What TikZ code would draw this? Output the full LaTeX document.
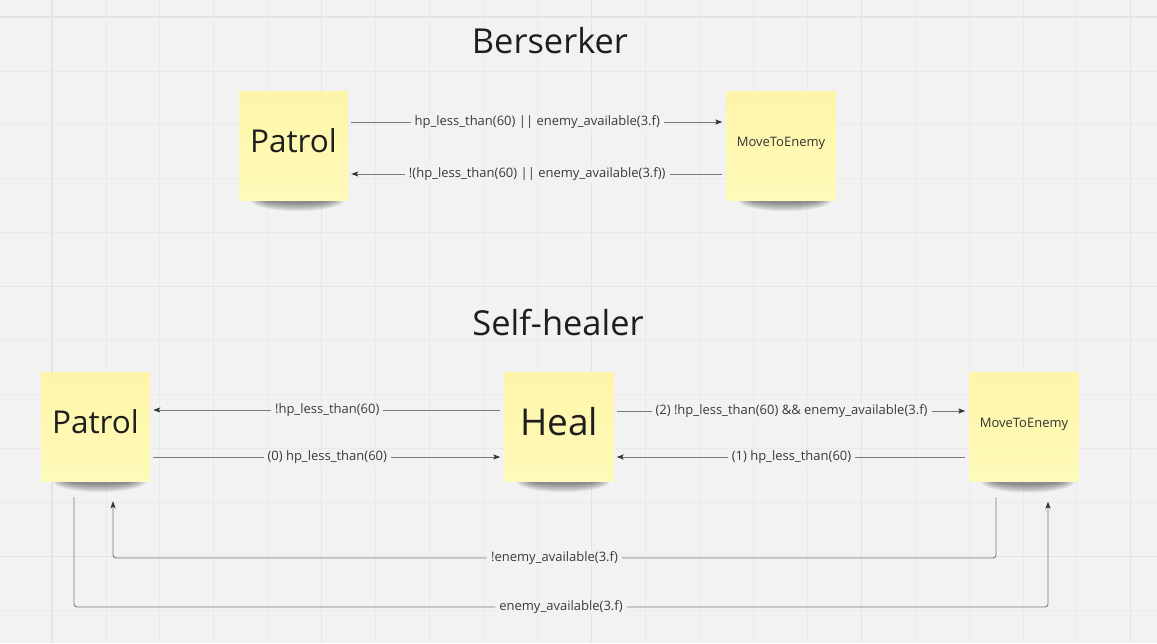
\documentclass[tikz,border=0pt]{standalone}
\usepackage{fontspec}
\setmainfont{Open Sans}
\usetikzlibrary{arrows.meta}
\definecolor{bg}{HTML}{F2F2F2}
\definecolor{gridminor}{HTML}{EAEAEA}
\definecolor{gridmajor}{HTML}{E4E4E4}
\definecolor{stickyTop}{HTML}{FDF5A8}
\definecolor{stickyBot}{HTML}{FFFAB9}
\definecolor{ink}{HTML}{1E1E1E}
\definecolor{labc}{HTML}{3A3A3A}
\definecolor{linec}{HTML}{7A7A7A}
\pgfdeclarelayer{gridlayer}
\pgfdeclarelayer{shadowlayer}
\pgfsetlayers{gridlayer,shadowlayer,main}
\tikzset{
  sticky/.style={minimum width=109pt, minimum height=109pt, inner sep=0pt,
    top color=stickyTop, bottom color=stickyBot, text=ink},
  bigtxt/.style={font=\fontsize{31.5}{36}\selectfont, text depth=9pt},
  healtxt/.style={font=\fontsize{37}{42}\selectfont, text depth=10pt},
  smalltxt/.style={font=\fontsize{13}{15}\selectfont, text=black!80, text depth=8pt},
  title/.style={font=\fontsize{34.4}{40}\selectfont, text=ink},
  lab/.style={fill=bg, inner xsep=4pt, inner ysep=1pt, text=labc,
    font=\fontsize{13}{15}\selectfont},
  conn/.style={draw=linec, line width=0.9pt,
    -{Stealth[length=7pt,width=5pt,inset=1.5pt,color=black!80]}},
}
\newcommand\stickyshadow[1]{%
  \begin{pgfonlayer}{shadowlayer}
  \foreach \r in {0,...,9}{
    \pgfmathsetmacro\rx{47-1.6*\r}
    \pgfmathsetmacro\ry{11-0.9*\r}
    \fill[black,opacity=0.05] ([xshift=4pt,yshift=0pt]#1.south) ellipse (\rx pt and \ry pt);
  }
  \end{pgfonlayer}}
\begin{document}
\begin{tikzpicture}[x=1pt,y=-1pt]
\useasboundingbox (0,0) rectangle (1157,643);
\begin{pgfonlayer}{gridlayer}
  \fill[bg] (0,0) rectangle (1157,643);
  \foreach \k in {0,...,20}{
    \draw[gridminor, line width=0.8pt] ({52+53.94*\k},0) -- ++(0,643);
  }
  \foreach \k in {0,...,11}{
    \draw[gridminor, line width=0.8pt] (0,{17+53.94*\k}) -- ++(1157,0);
  }
  \foreach \k in {0,5,10,15,20}{
    \draw[gridmajor, line width=1.1pt] ({52+53.94*\k},0) -- ++(0,643);
  }
  \foreach \k in {0,5,10}{
    \draw[gridmajor, line width=1.1pt] (0,{17+53.94*\k}) -- ++(1157,0);
  }
\end{pgfonlayer}

% titles
\node[title] (t1) at (550,41) {Berserker};
\node[title] (t2) at (558,323) {Self-healer};

% Berserker
\node[sticky, bigtxt] (bP) at (293.5,145.5) {Patrol};
\node[sticky, smalltxt] (bM) at (781,145.5) {MoveToEnemy};
\stickyshadow{bP}
\stickyshadow{bM}

\draw[conn, shorten <=3pt, shorten >=4pt] (bP.east |- 0,122) -- node[lab]{hp\_less\_than(60) || enemy\_available(3.f)} (bM.west |- 0,122);
\draw[conn, shorten <=4pt, shorten >=3pt] (bM.west |- 0,174) -- node[lab]{!(hp\_less\_than(60) || enemy\_available(3.f))} (bP.east |- 0,174);

% Self-healer
\node[sticky, bigtxt] (sP) at (95.5,426.5) {Patrol};
\node[sticky, healtxt] (sH) at (559,426.5) {Heal};
\node[sticky, smalltxt] (sM) at (1024,427) {MoveToEnemy};
\stickyshadow{sP}
\stickyshadow{sH}
\stickyshadow{sM}

\draw[conn, shorten <=4pt, shorten >=3pt] (sH.west |- 0,410) -- node[lab]{!hp\_less\_than(60)} (sP.east |- 0,410);
\draw[conn, shorten <=3pt, shorten >=4pt] (sP.east |- 0,457) -- node[lab]{(0) hp\_less\_than(60)} (sH.west |- 0,457);
\draw[conn, shorten <=3pt, shorten >=4pt] (sH.east |- 0,411) -- node[lab]{(2) !hp\_less\_than(60) \&\& enemy\_available(3.f)} (sM.west |- 0,411);
\draw[conn, shorten <=4pt, shorten >=3pt] (sM.west |- 0,457) -- node[lab]{(1) hp\_less\_than(60)} (sH.east |- 0,457);

\draw[conn, rounded corners=3pt]
  ([xshift=-28pt,yshift=-16pt]sM.south) -- ([xshift=-28pt]sM.south |- 0,558)
  -- node[lab]{!enemy\_available(3.f)} ([xshift=17.5pt]sP.south |- 0,558)
  -- ([xshift=17.5pt,yshift=-20pt]sP.south);
\draw[conn, rounded corners=3pt]
  ([xshift=-21.5pt,yshift=-16pt]sP.south) -- ([xshift=-21.5pt]sP.south |- 0,607)
  -- node[lab]{enemy\_available(3.f)} ([xshift=24pt]sM.south |- 0,607)
  -- ([xshift=24pt,yshift=-20pt]sM.south);
\end{tikzpicture}
\end{document}
